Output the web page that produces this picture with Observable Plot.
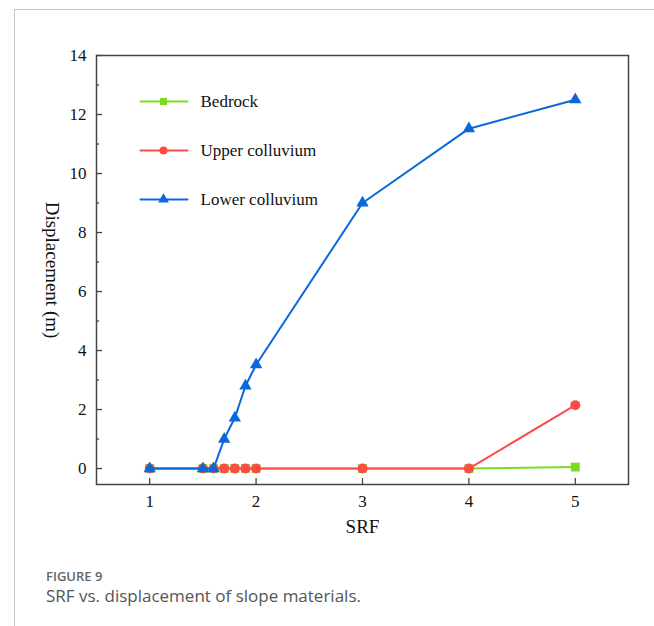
<!DOCTYPE html>
<html>
<head>
<meta charset="utf-8">
<script src="https://cdn.jsdelivr.net/npm/d3@7"></script>
<script src="https://cdn.jsdelivr.net/npm/@observablehq/plot@0.6"></script>
<style>
  html, body { margin: 0; padding: 0; background: #fff; }
  #page { position: relative; width: 654px; height: 626px; overflow: hidden; }
  #card { position: absolute; left: 14px; top: 9px; right: 0; bottom: 0;
          border-left: 1px solid #c8c8c8; border-top: 1px solid #c8c8c8; }
  #chart { position: absolute; left: 0; top: 0; }
  #caption { position: absolute; left: 46px; top: 568px; font-family: "Open Sans", sans-serif; color: #555; }
  #caption .fig { font-size: 13px; font-weight: 600; color: #666; line-height: 17px; }
  #caption .txt { font-size: 17px; line-height: 22px; }
</style>
</head>
<body>
<div id="page">
  <div id="card"></div>
  <div id="chart"></div>
  <div id="caption">
    <div class="fig">FIGURE 9</div>
    <div class="txt">SRF vs. displacement of slope materials.</div>
  </div>
</div>
<script>
// Strength reduction factor (SRF) steps
const srf = [1, 1.5, 1.6, 1.7, 1.8, 1.9, 2, 3, 4, 5];
// Displacement (m) of each material at each SRF
const bedrock = [0, 0, 0, 0, 0, 0, 0, 0, 0, 0.05];
const upperColluvium = [0, 0, 0, 0, 0, 0, 0, 0, 0, 2.15];
const lowerColluvium = [0, 0, 0, 1.0, 1.72, 2.8, 3.52, 9.0, 11.52, 12.5];

const seriesNames = ["Bedrock", "Upper colluvium", "Lower colluvium"];
const seriesValues = [bedrock, upperColluvium, lowerColluvium];
const seriesColors = ["#7ddc1f", "#ff4a4a", "#0a68d8"];
const seriesSymbols = ["square", "circle", "triangle"];
const seriesSizes = [5, 5, 4.6];

const xTicks = [1, 2, 3, 4, 5];
const yTicks = [0, 2, 4, 6, 8, 10, 12, 14];
const yMinorTicks = [1, 3, 5, 7, 9, 11, 13];

const serif = "'Liberation Serif', 'Times New Roman', serif";

// a plain horizontal stroke for the legend keys
const keyLine = {
  draw(context, length) {
    context.moveTo(0, 0);
    context.lineTo(0, -length);
  }
};

const marks = [];

seriesNames.forEach((name, i) => {
  const rows = srf.map((x, j) => ({x, y: seriesValues[i][j]}));
  marks.push(Plot.line(rows, {x: "x", y: "y", stroke: seriesColors[i], strokeWidth: 2}));
  marks.push(Plot.dot(rows, {x: "x", y: "y", fill: seriesColors[i], stroke: "none",
    symbol: () => seriesSymbols[i], r: seriesSizes[i]}));
});

// legend inside the frame
seriesNames.forEach((name, i) => {
  const dy = 46 + i * 49;
  marks.push(Plot.vector([0], {frameAnchor: "top-left", dx: 44, dy, length: 47, rotate: 90,
    anchor: "start", shape: keyLine, stroke: seriesColors[i], strokeWidth: 2}));
  marks.push(Plot.dot([0], {frameAnchor: "top-left", dx: 67, dy, symbol: () => seriesSymbols[i],
    r: 4, fill: seriesColors[i], stroke: "none"}));
  marks.push(Plot.text([name], {frameAnchor: "top-left", dx: 104, dy, text: d => d,
    textAnchor: "start", lineAnchor: "middle", fontSize: 17, fontFamily: serif, fill: "#111"}));
});

marks.push(
  Plot.frame({stroke: "#444", strokeWidth: 1.5}),
  // inward tick marks
  Plot.axisX(xTicks, {tickSize: -6, tickFormat: () => "", label: null, stroke: "#444", strokeWidth: 1.3}),
  Plot.axisY(yTicks, {tickSize: -6, tickFormat: () => "", label: null, stroke: "#444", strokeWidth: 1.3}),
  Plot.axisY(yMinorTicks, {tickSize: -3, tickFormat: () => "", label: null, stroke: "#444", strokeWidth: 1.3}),
  // tick labels
  Plot.text(xTicks, {x: d => d, frameAnchor: "bottom", dy: 17, text: d => String(d),
    lineAnchor: "middle", textAnchor: "middle", fontSize: 17, fontFamily: serif, fill: "#111"}),
  Plot.text(yTicks, {y: d => d, frameAnchor: "left", dx: -10, text: d => String(d),
    lineAnchor: "middle", textAnchor: "end", fontSize: 17, fontFamily: serif, fill: "#111"}),
  // axis titles
  Plot.text(["SRF"], {frameAnchor: "bottom", dy: 42, text: d => d, lineAnchor: "middle",
    textAnchor: "middle", fontSize: 19, fontFamily: serif, fill: "#111"}),
  Plot.text(["Displacement (m)"], {frameAnchor: "left", dx: -44, rotate: 90, text: d => d,
    textAnchor: "middle", lineAnchor: "middle", fontSize: 19, fontFamily: serif, fill: "#111"})
);

const chart = Plot.plot({
  width: 654,
  height: 540,
  marginLeft: 96,
  marginRight: 26,
  marginTop: 55,
  marginBottom: 56,
  style: {background: "transparent", color: "#111", fontFamily: serif},
  x: {domain: [0.5, 5.5], axis: null},
  y: {domain: [-0.54, 14], axis: null},
  marks
});

document.getElementById("chart").appendChild(chart);
</script>
</body>
</html>
